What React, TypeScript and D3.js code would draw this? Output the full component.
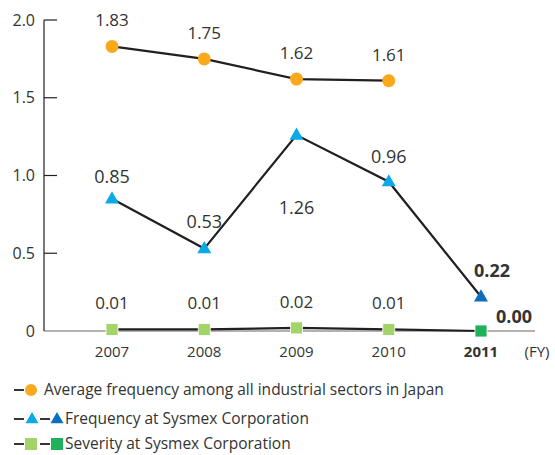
import React from "react";
import * as d3 from "d3";

const years = ["2007", "2008", "2009", "2010", "2011"];
const avgFreq = [1.83, 1.75, 1.62, 1.61];
const sysFreq = [0.85, 0.53, 1.26, 0.96, 0.22];
const severity = [0.01, 0.01, 0.02, 0.01, 0.0];
const yTicks = [0, 0.5, 1.0, 1.5, 2.0];
const yTickLabels = ["0", "0.5", "1.0", "1.5", "2.0"];
const legendLabels = [
  "Average frequency among all industrial sectors in Japan",
  "Frequency at Sysmex Corporation",
  "Severity at Sysmex Corporation",
];
// label offsets: dy relative to point
const freqLabelDy = [-22, -27, 73, -25, -26];

const FONT = "'Open Sans', 'Noto Sans', sans-serif";
const C_ORANGE = "#F9AA1C";
const C_LBLUE = "#0AAAE6";
const C_DBLUE = "#0B6FBE";
const C_LGREEN = "#A3D46A";
const C_DGREEN = "#1FB25A";
const C_LINE = "#231F20";
const C_TEXT = "#333";

export default function App() {
  const x = d3.scalePoint<string>().domain(years).range([112, 481]);
  const y = d3.scaleLinear().domain([0, 2]).range([331, 20]);
  const line = d3
    .line<number>()
    .x((_, i) => x(years[i])!)
    .y((d) => y(d));

  const tri = (cx: number, cy: number, s: number) => {
    const h = s * 0.87;
    return `M${cx},${cy - h * 0.62}L${cx + s / 2},${cy + h * 0.38}L${cx - s / 2},${cy + h * 0.38}Z`;
  };

  const last = years.length - 1;
  const rows = [390, 419, 444];

  return (
    <svg width={555} height={455} style={{ position: "absolute", left: 0, top: 0 }} fontFamily={FONT}>
      <rect width={555} height={455} fill="#fff" />
      {/* baseline */}
      <line x1={44} x2={535} y1={y(0)} y2={y(0)} stroke="#999" strokeWidth={1.5} />
      {/* y axis */}
      <line x1={44} x2={44} y1={y(2)} y2={y(0)} stroke={C_LINE} strokeWidth={1.2} />
      {yTicks.map((t, i) => (
        <g key={t}>
          {t > 0 && <line x1={44} x2={57} y1={y(t)} y2={y(t)} stroke={C_LINE} strokeWidth={1.2} />}
          <text x={35} y={y(t)} dy="0.35em" textAnchor="end" fontSize={16} fill={C_TEXT}>
            {yTickLabels[i]}
          </text>
        </g>
      ))}
      {/* x labels */}
      {years.map((yr, i) => (
        <text
          key={yr}
          x={x(yr)}
          y={352}
          dy="0.35em"
          textAnchor="middle"
          fontSize={15}
          fontWeight={i === last ? 700 : 400}
          fill={C_TEXT}
        >
          {yr}
        </text>
      ))}
      <text x={537} y={352} dy="0.35em" textAnchor="middle" fontSize={15} fill={C_TEXT}>
        (FY)
      </text>

      {/* lines */}
      <path d={line(avgFreq)!} fill="none" stroke={C_LINE} strokeWidth={2.2} />
      <path d={line(sysFreq)!} fill="none" stroke={C_LINE} strokeWidth={2.2} />
      <path d={line(severity)!} fill="none" stroke={C_LINE} strokeWidth={2.2} />

      {/* avg markers */}
      {avgFreq.map((v, i) => (
        <g key={"a" + i}>
          <circle cx={x(years[i])} cy={y(v)} r={6.5} fill={C_ORANGE} />
          <text x={x(years[i])} y={y(v) - 26} dy="0.35em" textAnchor="middle" fontSize={17} fill={C_TEXT}>
            {v.toFixed(2)}
          </text>
        </g>
      ))}
      {/* frequency markers */}
      {sysFreq.map((v, i) => (
        <g key={"f" + i}>
          <path d={tri(x(years[i])!, y(v), 14)} fill={i === last ? C_DBLUE : C_LBLUE} />
          <text
            x={x(years[i])! + (i === last ? 11 : 0)}
            y={y(v) + freqLabelDy[i]}
            dy="0.35em"
            textAnchor="middle"
            fontSize={18}
            fontWeight={i === last ? 700 : 400}
            fill={C_TEXT}
          >
            {v.toFixed(2)}
          </text>
        </g>
      ))}
      {/* severity markers */}
      {severity.map((v, i) => (
        <g key={"s" + i}>
          <rect
            x={x(years[i])! - 6}
            y={y(v) - 6}
            width={12}
            height={12}
            fill={i === last ? C_DGREEN : C_LGREEN}
            stroke="#fff"
            strokeWidth={0.8}
          />
          <text
            x={i === last ? x(years[i])! + 15 : x(years[i])}
            y={i === last ? y(v) - 14 : y(v) - 26}
            dy="0.35em"
            textAnchor={i === last ? "start" : "middle"}
            fontSize={i === last ? 18 : 17}
            fontWeight={i === last ? 700 : 400}
            fill={C_TEXT}
          >
            {v.toFixed(2)}
          </text>
        </g>
      ))}

      {/* legend */}
      <g fontSize={15.5} fill={C_TEXT}>
        <line x1={14} x2={24} y1={rows[0]} y2={rows[0]} stroke={C_LINE} strokeWidth={1.8} />
        <circle cx={31} cy={rows[0]} r={6} fill={C_ORANGE} />
        <text x={44} y={rows[0]} dy="0.35em">{legendLabels[0]}</text>

        <line x1={14} x2={24} y1={rows[1]} y2={rows[1]} stroke={C_LINE} strokeWidth={1.8} />
        <path d={tri(32, rows[1], 13)} fill={C_LBLUE} />
        <line x1={40} x2={50} y1={rows[1]} y2={rows[1]} stroke={C_LINE} strokeWidth={1.8} />
        <path d={tri(57, rows[1], 13)} fill={C_DBLUE} />
        <text x={65} y={rows[1]} dy="0.35em">{legendLabels[1]}</text>

        <line x1={14} x2={24} y1={rows[2]} y2={rows[2]} stroke={C_LINE} strokeWidth={1.8} />
        <rect x={25} y={rows[2] - 6} width={12} height={12} fill={C_LGREEN} />
        <line x1={40} x2={50} y1={rows[2]} y2={rows[2]} stroke={C_LINE} strokeWidth={1.8} />
        <rect x={51} y={rows[2] - 6} width={12} height={12} fill={C_DGREEN} />
        <text x={65} y={rows[2]} dy="0.35em">{legendLabels[2]}</text>
      </g>
    </svg>
  );
}
